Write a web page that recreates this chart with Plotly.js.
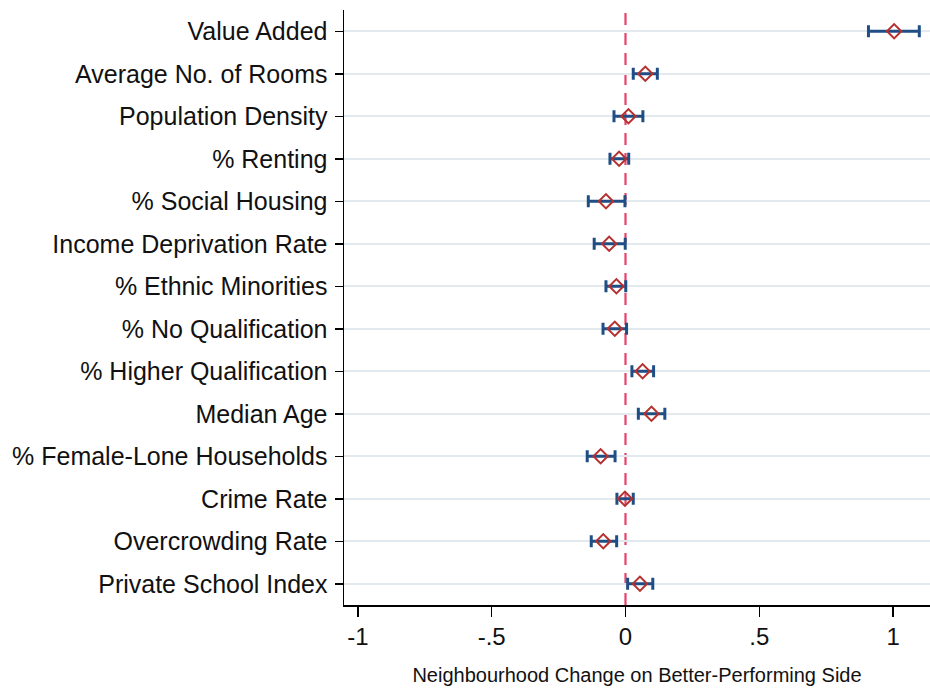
<!DOCTYPE html>
<html>
<head>
<meta charset="utf-8">
<script src="https://cdn.plot.ly/plotly-3.0.1.min.js"></script>
<style>html,body{margin:0;padding:0;background:#fff;}#chart{width:930px;height:691px;}</style>
</head>
<body>
<div id="chart"></div>
<script>
const categories = ["Value Added","Average No. of Rooms","Population Density","% Renting","% Social Housing","Income Deprivation Rate","% Ethnic Minorities","% No Qualification","% Higher Qualification","Median Age","% Female-Lone Households","Crime Rate","Overcrowding Rate","Private School Index"];
const estimates = [1.004,0.074,0.011,-0.024,-0.073,-0.061,-0.034,-0.040,0.064,0.097,-0.093,-0.002,-0.083,0.054];
const ciLow =  [0.908,0.029,-0.043,-0.058,-0.139,-0.117,-0.073,-0.084,0.024,0.048,-0.143,-0.032,-0.128,0.008];
const ciHigh = [1.098,0.119,0.065,0.012,-0.002,-0.001,0.001,0.004,0.105,0.147,-0.039,0.029,-0.033,0.102];
const xTickVals = [-1,-0.5,0,0.5,1];
const xTickText = ["-1","-.5","0",".5","1"];

const plus = estimates.map((e,i)=>ciHigh[i]-e);
const minus = estimates.map((e,i)=>e-ciLow[i]);

const trace = {
  type:'scatter', mode:'markers',
  x: estimates, y: categories,
  marker:{symbol:'diamond-open', size:11, color:'#b5302f', line:{width:2, color:'#b5302f'}},
  error_x:{type:'data', symmetric:false, array:plus, arrayminus:minus, color:'#1f4e85', thickness:3, width:6},
  cliponaxis:false
};

const layout = {
  width:930, height:691,
  margin:{l:344, r:0, t:10, b:86},
  paper_bgcolor:'#fff', plot_bgcolor:'#fff',
  showlegend:false,
  font:{family:'Liberation Sans, Arial, sans-serif', color:'#111'},
  xaxis:{
    range:[-1.052,1.138], tickvals:xTickVals, ticktext:xTickText,
    showgrid:false, zeroline:false, showline:true, linecolor:'#000', linewidth:1.5,
    ticks:'outside', ticklen:10, tickwidth:1.5, tickcolor:'#000',
    tickfont:{size:24, color:'#111'},
    title:{text:'Neighbourhood Change on Better-Performing Side', font:{size:20, color:'#111'}, standoff:18}
  },
  yaxis:{
    type:'category', categoryorder:'array', categoryarray:categories,
    range:[13.5,-0.5],
    showgrid:true, gridcolor:'#e3eaef', gridwidth:2,
    zeroline:false, showline:true, linecolor:'#000', linewidth:1.5,
    ticks:'outside', ticklen:8, tickwidth:1.5, tickcolor:'#000',
    tickfont:{size:25, color:'#111'}, ticklabelstandoff:2
  },
  shapes:[{type:'line', xref:'x', yref:'paper', x0:0, x1:0, y0:0, y1:1,
    line:{color:'#e5436a', width:2.2, dash:'12px,8px'}, layer:'below'}]
};

Plotly.newPlot('chart',[trace],layout,{staticPlot:true});
</script>
</body>
</html>
